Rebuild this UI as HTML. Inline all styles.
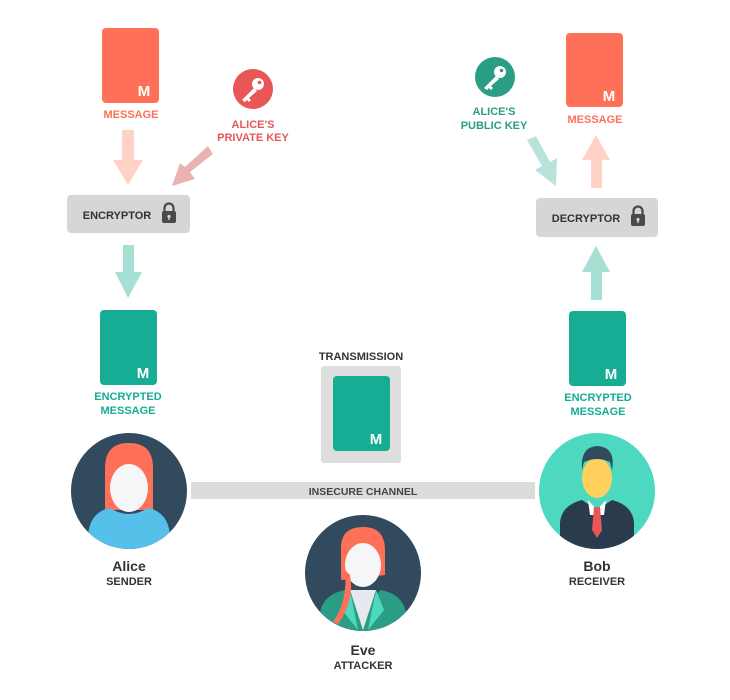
<!DOCTYPE html>
<html><head><meta charset="utf-8"><style>
html,body{margin:0;padding:0;background:#fff;}
svg{display:block;font-family:"Liberation Sans",sans-serif;font-weight:bold;}
</style></head><body>
<svg width="730" height="700" viewBox="0 0 730 700" xmlns="http://www.w3.org/2000/svg">
<defs>
<g id="lock"><rect x="-7" y="-3" width="14" height="12" rx="2" fill="#4a4a4a"/><path d="M-4.5,-3 v-3 a4.5,4.5 0 0 1 9,0 v3" fill="none" stroke="#4a4a4a" stroke-width="2.2"/><circle cx="0" cy="2.5" r="1.6" fill="#d6d6d6"/><rect x="-0.7" y="2.5" width="1.4" height="3.5" fill="#d6d6d6"/></g>
<g id="key"><circle cx="5" cy="-5" r="6" fill="#fff"/><circle cx="6.5" cy="-6.5" r="1.8" fill="currentColor"/><path d="M1,-1 L-11,11 L-8,13 L-6,11 L-4,13 L-2,11 L-4,9 L4,2 Z" fill="#fff"/></g>
</defs>

<!-- left message -->
<rect x="102" y="28" width="57" height="75" rx="4" fill="#ff7058"/>
<text x="144" y="96" font-size="15" fill="#fff" text-anchor="middle">M</text>
<text x="131" y="118" font-size="11" fill="#ff7058" text-anchor="middle">MESSAGE</text>
<!-- private key -->
<circle cx="253" cy="89" r="20" fill="#e85656"/>
<g transform="translate(253,89)" color="#e85656"><use href="#key"/></g>
<text x="253" y="128" font-size="11" fill="#e85656" text-anchor="middle">ALICE'S</text>
<text x="253" y="141" font-size="11" fill="#e85656" text-anchor="middle">PRIVATE KEY</text>
<!-- arrows left -->
<polygon points="122,130 134,130 134,160 143,160 128,185 113,160 122,160" fill="#ffd2c8"/>
<polygon points="208,146 213,154 190,172 195,179 172,186 180,163 185,167" fill="#ebb3b0"/>
<!-- encryptor -->
<rect x="67" y="195" width="123" height="38" rx="4" fill="#d6d6d6"/>
<text x="117" y="219" font-size="11" fill="#333" text-anchor="middle">ENCRYPTOR</text>
<g transform="translate(169,214)"><use href="#lock"/></g>
<polygon points="123,245 134,245 134,272 142,272 128,298 115,272 123,272" fill="#a6e0d4"/>
<!-- encrypted left -->
<rect x="100" y="310" width="57" height="75" rx="4" fill="#16ad94"/>
<text x="143" y="378" font-size="15" fill="#fff" text-anchor="middle">M</text>
<text x="128" y="400" font-size="11" fill="#16ad94" text-anchor="middle">ENCRYPTED</text>
<text x="128" y="414" font-size="11" fill="#16ad94" text-anchor="middle">MESSAGE</text>

<!-- transmission -->
<text x="361" y="360" font-size="11" fill="#333" text-anchor="middle">TRANSMISSION</text>
<rect x="321" y="366" width="80" height="97" rx="3" fill="#dedede"/>
<rect x="333" y="376" width="57" height="75" rx="4" fill="#16ad94"/>
<rect x="191" y="482" width="344" height="17" fill="#dcdcdc"/>
<text x="363" y="495" font-size="10.5" fill="#444" text-anchor="middle">INSECURE CHANNEL</text>
<text x="376" y="444" font-size="15" fill="#fff" text-anchor="middle">M</text>

<!-- right side -->
<rect x="566" y="33" width="57" height="74" rx="4" fill="#ff7058"/>
<text x="609" y="101" font-size="15" fill="#fff" text-anchor="middle">M</text>
<text x="595" y="123" font-size="11" fill="#ff7058" text-anchor="middle">MESSAGE</text>
<circle cx="495" cy="77" r="20" fill="#2a9d84"/>
<g transform="translate(495,77)" color="#2a9d84"><use href="#key"/></g>
<text x="494" y="115" font-size="11" fill="#2a9d84" text-anchor="middle">ALICE'S</text>
<text x="494" y="129" font-size="11" fill="#2a9d84" text-anchor="middle">PUBLIC KEY</text>
<polygon points="527,140 536,136 550,162 557,158 556,186 535,170 542,166" fill="#b8e3dc"/>
<polygon points="591,188 602,188 602,160 610,160 596,135 582,160 591,160" fill="#ffd2c8"/>
<rect x="536" y="198" width="122" height="39" rx="4" fill="#d6d6d6"/>
<text x="586" y="222" font-size="11" fill="#333" text-anchor="middle">DECRYPTOR</text>
<g transform="translate(638,217)"><use href="#lock"/></g>
<polygon points="591,300 602,300 602,272 610,272 596,246 582,272 591,272" fill="#a6e0d4"/>
<rect x="569" y="311" width="57" height="75" rx="4" fill="#16ad94"/>
<text x="611" y="379" font-size="15" fill="#fff" text-anchor="middle">M</text>
<text x="598" y="401" font-size="11" fill="#16ad94" text-anchor="middle">ENCRYPTED</text>
<text x="598" y="415" font-size="11" fill="#16ad94" text-anchor="middle">MESSAGE</text>

<!-- Alice -->
<clipPath id="ca"><circle cx="129" cy="491" r="58"/></clipPath>
<circle cx="129" cy="491" r="58" fill="#324a5e"/>
<g clip-path="url(#ca)">
<path d="M105,500 V468 Q105,443 129,443 Q153,443 153,468 V510 H105 Z" fill="#ff7058"/>
<ellipse cx="129" cy="488" rx="19" ry="24" fill="#f4f6f8"/>
<path d="M88,560 V535 Q90,512 110,508 Q129,520 148,508 Q168,512 170,535 V560 Z" fill="#55c0ea"/>
<path d="M112,463 Q125,450 146,462 L146,455 Q129,440 112,455 Z" fill="#ff7058"/>
</g>
<text x="129" y="571" font-size="14" fill="#333" text-anchor="middle">Alice</text>
<text x="129" y="585" font-size="11" fill="#333" text-anchor="middle">SENDER</text>

<!-- Bob -->
<clipPath id="cb"><circle cx="597" cy="491" r="58"/></clipPath>
<circle cx="597" cy="491" r="58" fill="#4dd9c0"/>
<g clip-path="url(#cb)">
<ellipse cx="597" cy="478" rx="15" ry="20" fill="#ffd15c"/>
<path d="M582,470 Q580,447 597,446 Q616,447 612,470 L610,462 Q597,456 584,462 Z" fill="#324a5e"/>
<path d="M560,560 V522 Q562,505 582,500 L597,510 L612,500 Q632,505 634,522 V560 Z" fill="#2b3b4e"/>
<path d="M588,500 L597,510 L606,500 L604,515 H590 Z" fill="#fff"/>
<polygon points="594,507 600,507 602,530 597,538 592,530" fill="#e85656"/>
</g>
<text x="597" y="571" font-size="14" fill="#333" text-anchor="middle">Bob</text>
<text x="597" y="585" font-size="11" fill="#333" text-anchor="middle">RECEIVER</text>

<!-- Eve -->
<clipPath id="ce"><circle cx="363" cy="573" r="58"/></clipPath>
<circle cx="363" cy="573" r="58" fill="#324a5e"/>
<g clip-path="url(#ce)">
<path d="M341,580 V548 Q341,527 363,527 Q385,527 385,550 V575 Z" fill="#ff7058"/>
<ellipse cx="363" cy="565" rx="18" ry="22" fill="#f4f6f8"/>
<path d="M320,640 V612 Q324,594 345,590 L363,605 L381,590 Q402,594 406,612 V640 Z" fill="#2a9d84"/>
<path d="M350,590 L363,630 L376,590 Z" fill="#e6e9ee"/>
<path d="M350,590 L358,630 L342,610 Z M376,590 L368,630 L384,610 Z" fill="#4dd9c0"/>
<path d="M345,570 Q348,600 333,622 L338,624 Q355,600 350,575 Z" fill="#ff7058"/>
</g>
<text x="363" y="655" font-size="14" fill="#333" text-anchor="middle">Eve</text>
<text x="363" y="669" font-size="11" fill="#333" text-anchor="middle">ATTACKER</text>
</svg>
</body></html>
